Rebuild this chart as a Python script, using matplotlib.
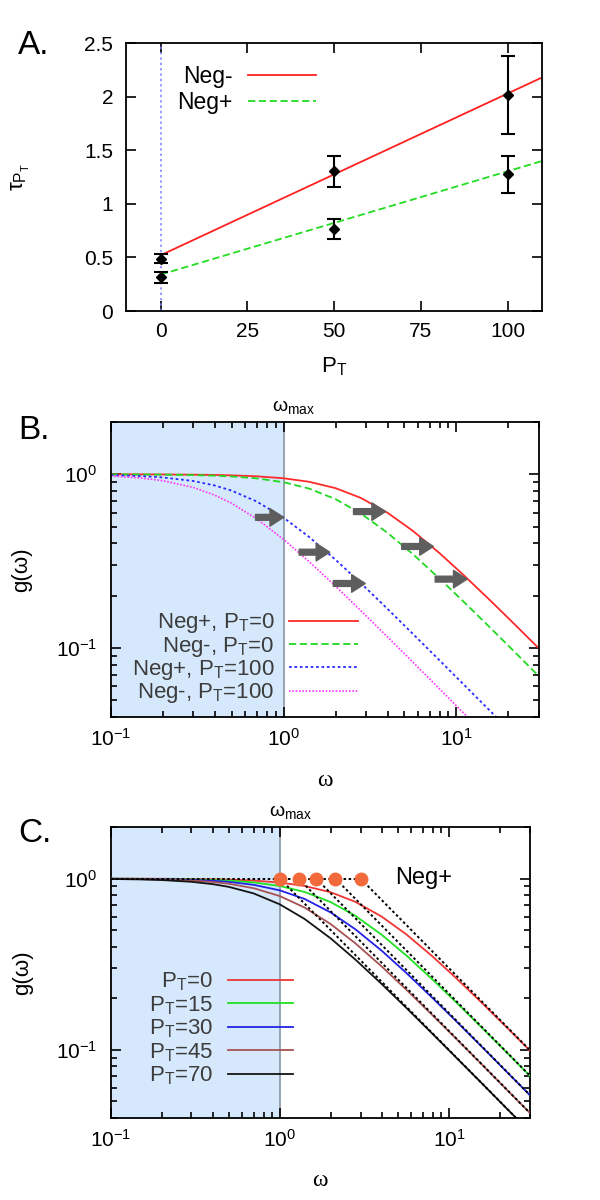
import matplotlib.pyplot as plt
from matplotlib.ticker import NullFormatter, LogLocator, LogFormatterSciNotation

plt.rcParams['font.family'] = ['Liberation Sans', 'DejaVu Sans']
plt.rcParams['mathtext.fontset'] = 'custom'
plt.rcParams['mathtext.rm'] = 'Liberation Sans'
plt.rcParams['mathtext.it'] = 'Liberation Sans:italic'
plt.rcParams['mathtext.default'] = 'regular'

# ---------------- panel A data ----------------
pt = [0, 50, 100]
tau_negm = [0.49, 1.305, 2.015]
err_negm = [0.04, 0.145, 0.36]
tau_negp = [0.315, 0.765, 1.275]
err_negp = [0.05, 0.09, 0.175]
fit_x = [0, 110]
fit_negm = [0.52, 2.18]
fit_negp = [0.34, 1.40]

# ---------------- panels B / C data ----------------
omega = [0.1, 0.15, 0.2, 0.3, 0.4, 0.5, 0.7, 1.0, 1.4, 2.0, 2.8, 4.0,
         5.6, 8.0, 11.0, 16.0, 22.0, 30.0]
g_negp_0 = [0.9994, 0.9988, 0.9978, 0.9950, 0.9912, 0.9864, 0.9738, 0.9487,
            0.9062, 0.8321, 0.7311, 0.6000, 0.4722, 0.3511, 0.2631, 0.1843,
            0.1351, 0.0995]
g_negm_0 = [0.9988, 0.9974, 0.9954, 0.9897, 0.9818, 0.9720, 0.9473, 0.9004,
            0.8283, 0.7192, 0.5945, 0.4596, 0.3467, 0.2505, 0.1849, 0.1283,
            0.0937, 0.0688]
g_negp_100 = [0.9894, 0.9765, 0.9594, 0.9149, 0.8619, 0.8057, 0.6968, 0.5623,
              0.4369, 0.3219, 0.2360, 0.1676, 0.1205, 0.0847, 0.0617, 0.0425,
              0.0309, 0.0227]
g_negm_100 = [0.9777, 0.9517, 0.9186, 0.8403, 0.7581, 0.6810, 0.5533, 0.4216,
              0.3152, 0.2265, 0.1638, 0.1155, 0.0828, 0.0580, 0.0422, 0.0291,
              0.0211, 0.0155]

# arrows (B): horizontal shifts between curves
arrow_tail = [2.54, 4.83, 7.54, 0.688, 1.23, 1.94]
arrow_tip = [3.89, 7.36, 11.54, 1.0, 1.85, 2.97]
arrow_g = [0.61, 0.384, 0.249, 0.565, 0.356, 0.235]

# panel C: Neg+ for several P_T
pt_c = [0, 15, 30, 45, 70]
g_c = [
    [0.9994, 0.9988, 0.9978, 0.9950, 0.9912, 0.9864, 0.9738, 0.9487, 0.9062,
     0.8321, 0.7311, 0.6000, 0.4722, 0.3511, 0.2631, 0.1843, 0.1351, 0.0995],
    [0.9989, 0.9975, 0.9956, 0.9903, 0.9828, 0.9735, 0.9500, 0.9052, 0.8357,
     0.7290, 0.6054, 0.4700, 0.3555, 0.2573, 0.1901, 0.1320, 0.0964, 0.0708],
    [0.9981, 0.9958, 0.9926, 0.9837, 0.9715, 0.9565, 0.9197, 0.8538, 0.7606,
     0.6341, 0.5054, 0.3794, 0.2811, 0.2008, 0.1475, 0.1020, 0.0743, 0.0546],
    [0.9970, 0.9933, 0.9882, 0.9740, 0.9551, 0.9324, 0.8789, 0.7903, 0.6776,
     0.5420, 0.4184, 0.3069, 0.2245, 0.1592, 0.1165, 0.0804, 0.0585, 0.0430],
    [0.9950, 0.9889, 0.9806, 0.9578, 0.9285, 0.8944, 0.8192, 0.7071, 0.5812,
     0.4472, 0.3363, 0.2425, 0.1758, 0.1240, 0.0905, 0.0624, 0.0454, 0.0333],
]
corner_c = [3.0, 2.13, 1.64, 1.29, 1.0]      # orange dots at g = 1
asym_end_c = [0.100, 0.071, 0.0547, 0.043, 0.0333]   # asymptote value at omega = 30
omega_max = 1.0
omega_lim = [0.1, 30]
g_lim = [0.04, 2]

TICK = 15
SHADE = '#d6e8fb'

fig = plt.figure(figsize=(6, 12), dpi=100)
fig.patch.set_facecolor('white')

axA = fig.add_axes([0.2097, 0.7408, 0.694, 0.2233])
axB = fig.add_axes([0.1847, 0.4025, 0.7133, 0.2458])
axC = fig.add_axes([0.1847, 0.0683, 0.698, 0.2425])

for ax in (axA, axB, axC):
    for s in ax.spines.values():
        s.set_linewidth(1.3)
    ax.tick_params(which='both', direction='in', top=True, right=True,
                   labelsize=TICK, width=1.2)
    ax.tick_params(which='major', length=7)
    ax.tick_params(which='minor', length=4)

# ================= A =================
axA.axvline(0, color='#7d7dff', lw=1.1, ls=(0, (1.5, 2)))
lA1, = axA.plot(fit_x, fit_negm, color='#ff2020', lw=1.3)
lA2, = axA.plot(fit_x, fit_negp, color='#22dd22', lw=1.3, ls=(0, (4, 2)))
for y, e in ((tau_negm, err_negm), (tau_negp, err_negp)):
    axA.errorbar(pt, y, yerr=e, fmt='D', color='black', ms=5, capsize=5,
                 elinewidth=1.5, capthick=1.5, zorder=5)
axA.set_xlim(-10, 110)
axA.set_ylim(0, 2.5)
axA.set_xticks([0, 25, 50, 75, 100])
axA.set_yticks([0, 0.5, 1, 1.5, 2, 2.5])
axA.set_yticklabels(['0', '0.5', '1', '1.5', '2', '2.5'])
axA.tick_params(axis='x', pad=8)
axA.tick_params(axis='y', pad=9)
axA.set_xlabel(r'P$_T$', fontsize=16)
axA.xaxis.set_label_coords(0.5, -0.165)
axA.set_ylabel(r'τ$_{P_T}$', fontsize=16)
axA.yaxis.set_label_coords(-0.225, 0.5)
axA.legend([lA1, lA2], ['Neg-', 'Neg+'], loc='upper right',
           bbox_to_anchor=(0.456, 0.919), markerfirst=False, frameon=False,
           fontsize=16.5, handlelength=2.97, handletextpad=0.65,
           labelspacing=0.13, borderpad=0, borderaxespad=0)


def log_axes(ax):
    ax.set_xscale('log')
    ax.set_yscale('log')
    ax.set_xlim(*omega_lim)
    ax.set_ylim(*g_lim)
    ax.axvspan(omega_lim[0], omega_max, color=SHADE, lw=0, zorder=0)
    ax.axvline(omega_max, color='#8e9cab', lw=1.3, zorder=1)
    ax.xaxis.set_major_locator(LogLocator(base=10, numticks=10))
    ax.yaxis.set_major_locator(LogLocator(base=10, numticks=10))
    ax.xaxis.set_major_formatter(LogFormatterSciNotation())
    ax.yaxis.set_major_formatter(LogFormatterSciNotation())
    ax.xaxis.set_minor_formatter(NullFormatter())
    ax.yaxis.set_minor_formatter(NullFormatter())
    ax.tick_params(axis='x', pad=8)
    ax.tick_params(axis='y', pad=10)
    ax.set_xlabel('ω', fontsize=17, family=['Liberation Serif'])
    ax.xaxis.set_label_coords(0.5, -0.178)
    ax.set_ylabel('g(ω)', fontsize=16)
    ax.yaxis.set_label_coords(-0.185, 0.5)
    ax.annotate(r'ω$_{max}$', xy=(omega_max, 1.0),
                xycoords=ax.get_xaxis_transform(), xytext=(-8, 4),
                textcoords='offset points', ha='left', va='bottom',
                fontsize=14)


# ================= B =================
log_axes(axB)
b1, = axB.plot(omega, g_negp_0, color='#ff2a2a', lw=1.3)
b2, = axB.plot(omega, g_negm_0, color='#22d822', lw=1.3, ls=(0, (4, 2)))
b3, = axB.plot(omega, g_negp_100, color='#2a2aff', lw=1.3, ls=(0, (1.5, 1.5)))
b4, = axB.plot(omega, g_negm_100, color='#ff33ff', lw=1.2, ls=(0, (1, 1)))
for t0, t1, g in zip(arrow_tail, arrow_tip, arrow_g):
    axB.annotate('', xy=(t1, g), xytext=(t0, g),
                 arrowprops=dict(arrowstyle='simple,head_length=0.7,head_width=0.9,tail_width=0.3',
                                 mutation_scale=14, color='#5e5e5e',
                                 shrinkA=0, shrinkB=0), zorder=6)
legB = axB.legend([b1, b2, b3, b4],
                  [r'Neg+, P$_T$=0', r'Neg-, P$_T$=0', r'Neg+, P$_T$=100',
                   r'Neg-, P$_T$=100'],
                  loc='upper right', bbox_to_anchor=(0.578, 0.358),
                  markerfirst=False, frameon=False, fontsize=16,
                  handlelength=3.1, handletextpad=0.67, labelspacing=-0.03,
                  borderpad=0, borderaxespad=0)
for t in legB.get_texts():
    t.set_color('#3c3c3c')

# ================= C =================
log_axes(axC)
colors_c = ['#f03535', '#22e022', '#2222e6', '#a85252', '#141414']
lines_c = []
for g, c in zip(g_c, colors_c):
    l, = axC.plot(omega, g, color=c, lw=1.3, zorder=3)
    lines_c.append(l)
for wc, ge in zip(corner_c, asym_end_c):
    axC.plot([wc, omega_lim[1]], [1.0, ge], color='black', lw=1.4,
             ls=(0, (1.3, 1.3)), zorder=4)
axC.plot([omega_lim[0], max(corner_c)], [1.0, 1.0], color='black', lw=1.4,
         ls=(0, (1.3, 1.3)), zorder=4)
axC.plot(corner_c, [1.0] * len(corner_c), 'o', color='#f26a3c', ms=9,
         zorder=6)
axC.text(0.747, 0.825, 'Neg+', transform=axC.transAxes, fontsize=17,
         ha='center', va='center')
legC = axC.legend(lines_c, [r'P$_T$=%d' % p for p in pt_c], loc='upper right',
                  bbox_to_anchor=(0.435, 0.507), markerfirst=False,
                  frameon=False, fontsize=16, handlelength=2.93,
                  handletextpad=0.67, labelspacing=0.04, borderpad=0,
                  borderaxespad=0)
for t in legC.get_texts():
    t.set_color('#3c3c3c')

fig.text(0.03, 1 - 45 / 1200, 'A.', fontsize=24, va='center')
fig.text(0.03, 1 - 430 / 1200, 'B.', fontsize=24, va='center')
fig.text(0.03, 1 - 833 / 1200, 'C.', fontsize=24, va='center')

fig.savefig('out.png', dpi=100, facecolor='white')
